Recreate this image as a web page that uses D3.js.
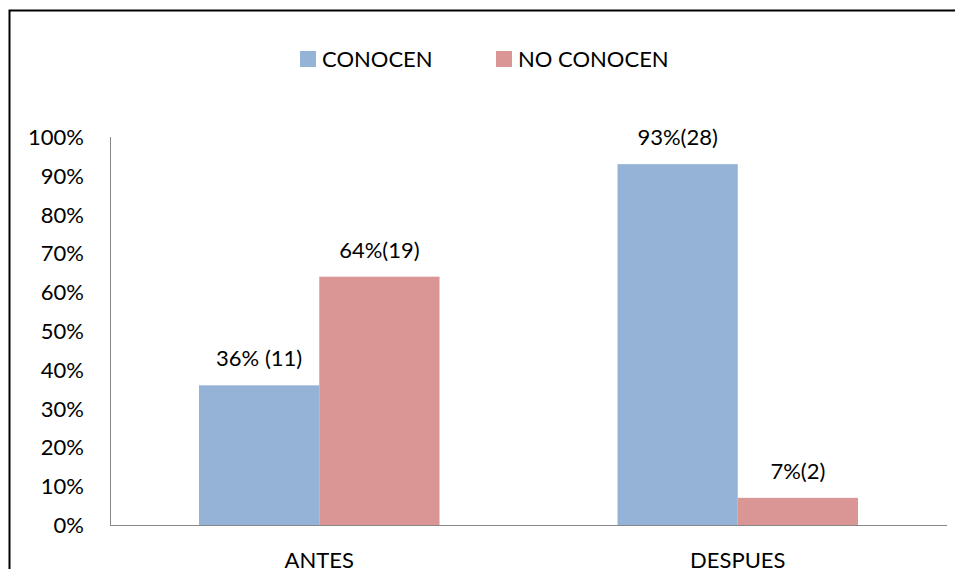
<html lang="es">
<head>
    <meta charset="utf-8">
    <title>Conocen</title>
    <script type="text/javascript" src="https://cdn.jsdelivr.net/npm/d3@7"></script>
    <style>
        body { margin: 0; background: white; }
        text { font-family: Lato, "Open Sans", sans-serif; fill: black; }
    </style>
</head>
<body>
    <script type="text/javascript">
        var categories = ["ANTES", "DESPUES"];
        var seriesNames = ["CONOCEN", "NO CONOCEN"];
        var conocen = [0.36, 0.93];
        var noConocen = [0.64, 0.07];
        var labelsConocen = ["36% (11)", "93%(28)"];
        var labelsNoConocen = ["64%(19)", "7%(2)"];
        var yTicks = [0, 0.1, 0.2, 0.3, 0.4, 0.5, 0.6, 0.7, 0.8, 0.9, 1];
        var colors = ["#95B3D7", "#D99694"];

        var w = 955, h = 569;
        var plot = {left: 110, right: 947, top: 137, bottom: 525};
        var fs = "22px";

        var svg = d3.select("body").append("svg")
            .attr("width", w)
            .attr("height", h);

        // outer frame
        svg.append("rect")
            .attr("x", 9.5).attr("y", 10.5)
            .attr("width", w + 10).attr("height", h + 10)
            .attr("fill", "none")
            .attr("stroke", "black")
            .attr("stroke-width", 2);

        var x0 = d3.scaleBand()
            .domain(categories)
            .range([plot.left, plot.right]);

        var x1 = d3.scaleBand()
            .domain(seriesNames)
            .range([89, x0.bandwidth() - 89]);

        var yScale = d3.scaleLinear()
            .domain([0, 1])
            .range([plot.bottom, plot.top]);

        // y tick labels
        svg.selectAll("text.ytick")
            .data(yTicks)
            .enter()
            .append("text")
            .attr("class", "ytick")
            .attr("x", 84)
            .attr("y", function(d) { return yScale(d) + 8; })
            .attr("text-anchor", "end")
            .attr("font-size", fs)
            .text(function(d) { return Math.round(d * 100) + "%"; });

        var rows = categories.map(function(c, i) {
            return {cat: c, vals: [
                {s: seriesNames[0], v: conocen[i], label: labelsConocen[i], color: colors[0]},
                {s: seriesNames[1], v: noConocen[i], label: labelsNoConocen[i], color: colors[1]}
            ]};
        });

        var groups = svg.selectAll("g.cat")
            .data(rows)
            .enter()
            .append("g")
            .attr("class", "cat")
            .attr("transform", function(d) { return "translate(" + x0(d.cat) + ",0)"; });

        groups.selectAll("rect")
            .data(function(d) { return d.vals; })
            .enter()
            .append("rect")
            .attr("x", function(d) { return x1(d.s); })
            .attr("y", function(d) { return yScale(d.v); })
            .attr("width", x1.bandwidth())
            .attr("height", function(d) { return yScale(0) - yScale(d.v); })
            .attr("fill", function(d) { return d.color; });

        groups.selectAll("text.lbl")
            .data(function(d) { return d.vals; })
            .enter()
            .append("text")
            .attr("class", "lbl")
            .attr("x", function(d) { return x1(d.s) + x1.bandwidth() / 2; })
            .attr("y", function(d) { return yScale(d.v) - 19; })
            .attr("text-anchor", "middle")
            .attr("font-size", fs)
            .text(function(d) { return d.label; });

        // axes lines
        svg.append("line")
            .attr("x1", plot.left + 0.5).attr("x2", plot.left + 0.5)
            .attr("y1", plot.top).attr("y2", plot.bottom)
            .attr("stroke", "#868686").attr("stroke-width", 1);
        svg.append("line")
            .attr("x1", plot.left).attr("x2", plot.right)
            .attr("y1", plot.bottom + 0.5).attr("y2", plot.bottom + 0.5)
            .attr("stroke", "#868686").attr("stroke-width", 1);

        // category labels (cut by the page edge, as in the original)
        svg.selectAll("text.xcat")
            .data(categories)
            .enter()
            .append("text")
            .attr("class", "xcat")
            .attr("x", function(d) { return x0(d) + x0.bandwidth() / 2; })
            .attr("y", 568)
            .attr("text-anchor", "middle")
            .attr("font-size", fs)
            .text(function(d) { return d; });

        // legend
        var legendX = [300, 496];
        var legend = svg.selectAll("g.legend")
            .data(seriesNames)
            .enter()
            .append("g")
            .attr("class", "legend")
            .attr("transform", function(d, i) { return "translate(" + legendX[i] + ",51)"; });
        legend.append("rect")
            .attr("width", 16).attr("height", 16)
            .attr("fill", function(d, i) { return colors[i]; });
        legend.append("text")
            .attr("x", 22).attr("y", 16)
            .attr("font-size", fs)
            .text(function(d) { return d; });
    </script>
</body>
</html>
